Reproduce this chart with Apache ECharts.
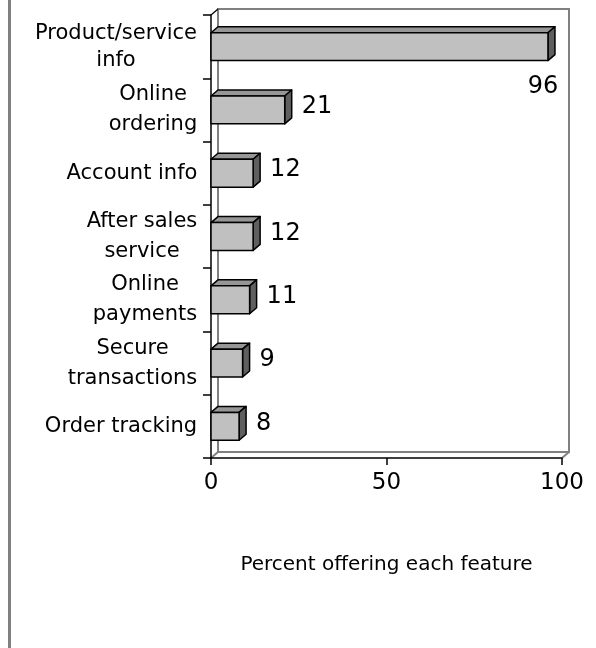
<!DOCTYPE html>
<html>
<head>
<meta charset="utf-8">
<script src="https://cdn.jsdelivr.net/npm/echarts@6/dist/echarts.min.js"></script>
<style>
  html, body { margin: 0; padding: 0; background: #fff; }
  #chart { width: 596px; height: 648px; }
</style>
</head>
<body>
<div id="chart"></div>
<script>
// Website features offered (percent)
const categories = [
  'Product/service\ninfo',
  'Online\nordering',
  'Account info',
  'After sales\nservice',
  'Online\npayments',
  'Secure\ntransactions',
  'Order tracking'
];
const values = [96, 21, 12, 12, 11, 9, 8];
const xTicks = [0, 50, 100];
const xTitle = 'Percent offering each feature';

const FONT = '"DejaVu Sans", "Liberation Sans", sans-serif';
const GRID = { left: 211, right: 34, top: 15, bottom: 190 };
const W = 596, H = 648;
const DX = 7, DY = 6;          // 3D depth offset
const BAR_FRAC = 0.44;         // bar thickness as share of the band

// Category labels: each line centred within its own block, block right-aligned to the axis
const measure = document.createElement('canvas').getContext('2d');
measure.font = '21px ' + FONT;
const rich = {};
categories.forEach((c, i) => {
  const w = Math.max(...c.split('\n').map(s => measure.measureText(s).width));
  rich['c' + i] = {
    width: Math.ceil(w) + 1,
    align: 'center',
    fontSize: 21,
    fontFamily: FONT,
    color: '#000',
    lineHeight: i === 0 ? 27 : 30
  };
});

function renderBar(params, api) {
  const v = api.value(0);
  const idx = api.value(1);
  const p0 = api.coord([0, idx]);
  const p1 = api.coord([v, idx]);
  const band = api.size([0, 1])[1];
  const h = band * BAR_FRAC;
  const x0 = p0[0], x1 = p1[0];
  const yt = p0[1] - h / 2, yb = p0[1] + h / 2;
  const stroke = { stroke: '#000', lineWidth: 1.5, lineJoin: 'round' };

  let label;
  if (v > 90) {
    // long bar: value sits under its end
    label = { x: x1 - 5, y: p0[1] + 40, align: 'center' };
  } else {
    label = { x: x1 + DX + 10, y: p0[1] - 3, align: 'left' };
  }

  return {
    type: 'group',
    children: [
      {
        type: 'polygon',
        shape: { points: [[x0, yt], [x1, yt], [x1 + DX, yt - DY], [x0 + DX, yt - DY]] },
        style: Object.assign({ fill: '#969696' }, stroke)
      },
      {
        type: 'polygon',
        shape: { points: [[x1, yt], [x1 + DX, yt - DY], [x1 + DX, yb - DY], [x1, yb]] },
        style: Object.assign({ fill: '#5f5f5f' }, stroke)
      },
      {
        type: 'rect',
        shape: { x: x0, y: yt, width: x1 - x0, height: yb - yt },
        style: Object.assign({ fill: '#c0c0c0' }, stroke)
      },
      {
        type: 'text',
        style: {
          text: String(v),
          x: label.x,
          y: label.y,
          font: '24px ' + FONT,
          fill: '#000',
          align: label.align,
          textAlign: label.align,
          verticalAlign: 'middle',
          textVerticalAlign: 'middle'
        }
      }
    ]
  };
}

// Back wall and floor edges of the 3D box
const gx0 = GRID.left, gx1 = W - GRID.right;
const gy0 = GRID.top, gy1 = H - GRID.bottom;
const wallStyle = { stroke: '#808080', lineWidth: 2, fill: null };
const graphics = [
  { type: 'rect', shape: { x: 8, y: 0, width: 3, height: H }, style: { fill: '#808080' }, z: 0 },
  {
    type: 'polyline',
    shape: { points: [[gx0 + DX, gy1 - DY], [gx0 + DX, gy0 - DY], [gx1 + DX, gy0 - DY], [gx1 + DX, gy1 - DY], [gx0 + DX, gy1 - DY]] },
    style: wallStyle, z: 0
  },
  { type: 'line', shape: { x1: gx0, y1: gy1, x2: gx0 + DX, y2: gy1 - DY }, style: wallStyle, z: 0 },
  { type: 'line', shape: { x1: gx1, y1: gy1, x2: gx1 + DX, y2: gy1 - DY }, style: wallStyle, z: 0 },
  { type: 'line', shape: { x1: gx0, y1: gy0, x2: gx0 + DX, y2: gy0 - DY }, style: { stroke: '#000', lineWidth: 1.2 }, z: 0 }
];

const chart = echarts.init(document.getElementById('chart'), null, { renderer: 'canvas' });
chart.setOption({
  animation: false,
  backgroundColor: '#fff',
  grid: Object.assign({ containLabel: false }, GRID),
  graphic: graphics,
  xAxis: {
    type: 'value',
    min: xTicks[0],
    max: xTicks[xTicks.length - 1],
    interval: xTicks[1] - xTicks[0],
    axisLine: { show: true, lineStyle: { color: '#000', width: 1.5 } },
    axisTick: { show: true, length: 7, lineStyle: { color: '#000', width: 1.5 } },
    splitLine: { show: false },
    axisLabel: { fontSize: 23, fontFamily: FONT, color: '#000', margin: 14 },
    name: xTitle,
    nameLocation: 'middle',
    nameGap: 97,
    nameTextStyle: { fontSize: 20, fontFamily: FONT, color: '#000', verticalAlign: 'top' }
  },
  yAxis: {
    type: 'category',
    data: categories,
    inverse: true,
    axisLine: { show: true, lineStyle: { color: '#000', width: 1.5 } },
    axisTick: { show: true, length: 8, lineStyle: { color: '#000', width: 1.5 } },
    splitLine: { show: false },
    axisLabel: {
      margin: 13,
      interval: 0,
      formatter: (val, idx) => val.split('\n').map(s => '{c' + idx + '|' + s + '}').join('\n'),
      rich: rich
    }
  },
  series: [{
    type: 'custom',
    renderItem: renderBar,
    encode: { x: 0, y: 1 },
    data: values.map((v, i) => [v, i]),
    z: 5
  }]
});
</script>
</body>
</html>
